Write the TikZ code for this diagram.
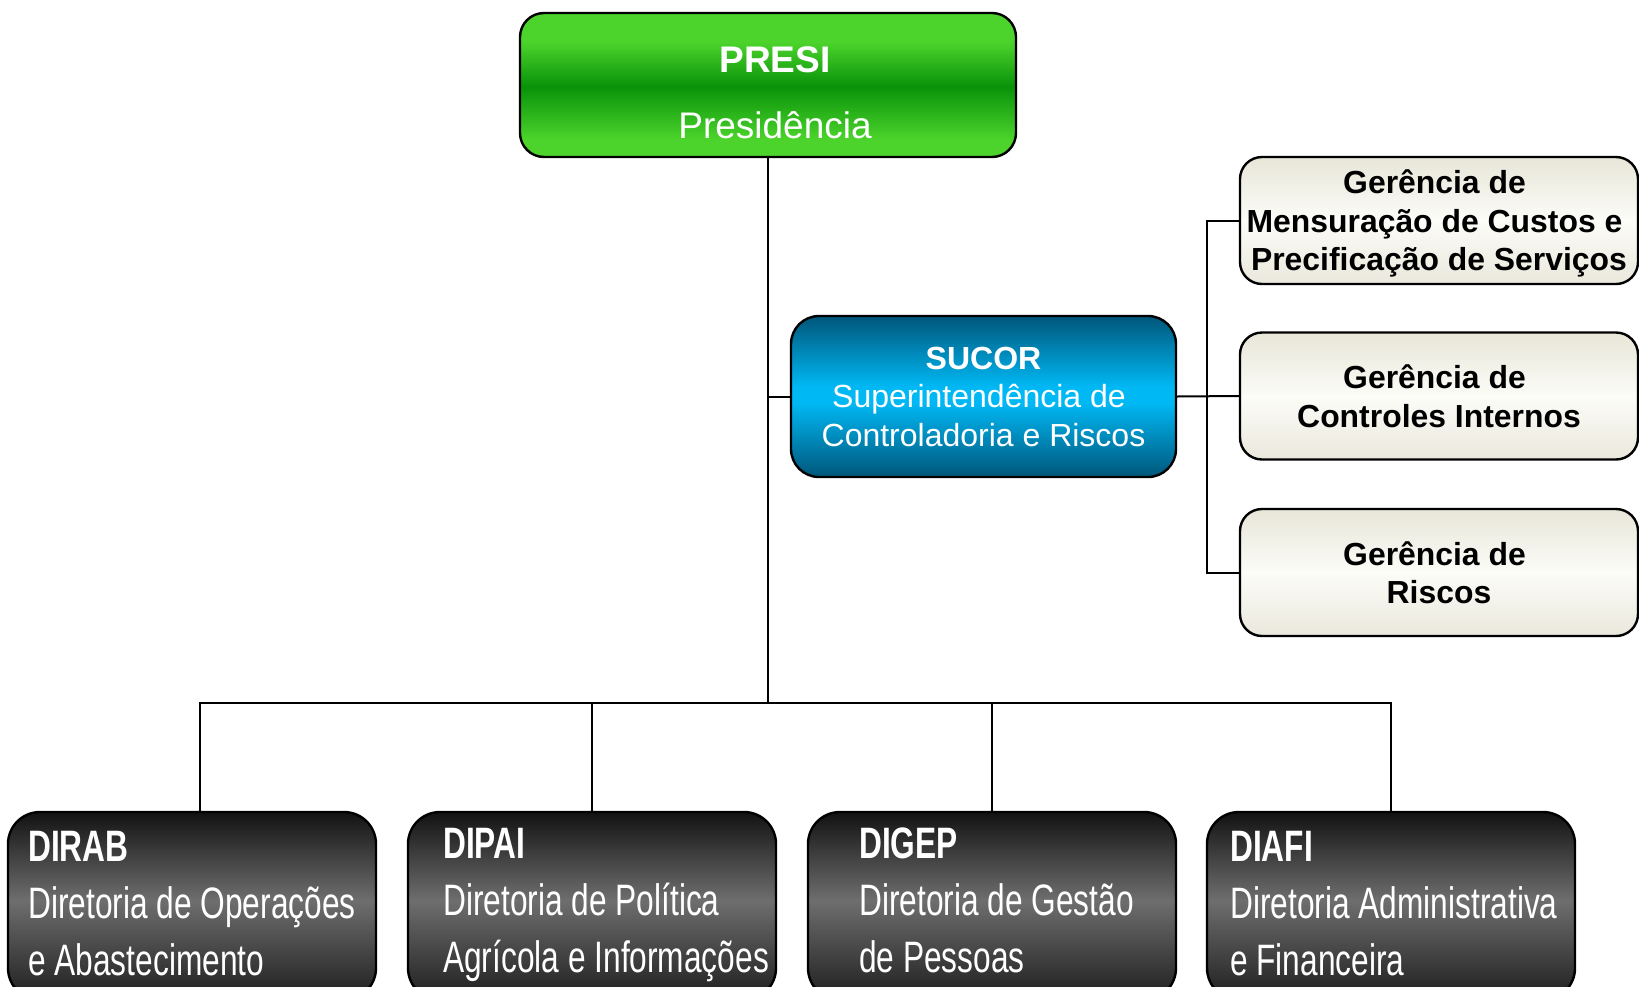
\documentclass[tikz,border=0pt]{standalone}
\usepackage{fontspec}
\setmainfont{Liberation Sans}
\newfontfamily\narrowfont[FakeStretch=0.72]{Liberation Sans}
\definecolor{grlight}{HTML}{4CD42C}
\definecolor{grdark}{HTML}{099209}
\definecolor{bldark}{HTML}{00567A}
\definecolor{blbright}{HTML}{00B8F4}
\definecolor{crtop}{HTML}{E8E6D8}
\definecolor{crmid}{HTML}{FCFCF8}
\definecolor{crbot}{HTML}{EAE8DC}
\definecolor{dktop}{HTML}{121212}
\definecolor{dkmid}{HTML}{6E6E6E}
\definecolor{dkbot}{HTML}{1E1E1E}
\pgfdeclareverticalshading{greenshade}{100bp}{color(0bp)=(grlight); color(31bp)=(grlight); color(49.5bp)=(grdark); color(65bp)=(grlight); color(100bp)=(grlight)}
\pgfdeclareverticalshading{blueshade}{100bp}{color(0bp)=(bldark); color(25bp)=(bldark); color(48bp)=(blbright); color(53bp)=(blbright); color(75bp)=(bldark); color(100bp)=(bldark)}
\pgfdeclareverticalshading{creamshade}{100bp}{color(0bp)=(crbot); color(25bp)=(crbot); color(50bp)=(crmid); color(75bp)=(crtop); color(100bp)=(crtop)}
\pgfdeclareverticalshading{darkshade}{100bp}{color(0bp)=(dkbot); color(25bp)=(dkbot); color(51.5bp)=(dkmid); color(75bp)=(dktop); color(100bp)=(dktop)}
\begin{document}
\begin{tikzpicture}[x=1pt,y=-1pt,
  conn/.style={line width=2pt, draw=black},
  boxbase/.style={draw=black, line width=2.4pt, inner sep=0pt},
  greenbox/.style={boxbase, shading=greenshade, rounded corners=24pt},
  bluebox/.style={boxbase, shading=blueshade, rounded corners=28pt, text=white, align=center, text depth=0pt, font=\fontsize{32}{38.5}\selectfont},
  creambox/.style={boxbase, shading=creamshade, rounded corners=22pt, text=black, align=center, text depth=0pt, minimum width=398pt, minimum height=127pt, font=\bfseries\fontsize{31.9}{38.5}\selectfont},
  darkbox/.style={boxbase, shading=darkshade, rounded corners=32pt, minimum width=368pt, minimum height=188pt},
  presitext/.style={text=white, align=center, text depth=0pt, inner sep=0pt, font=\fontsize{37}{66}\selectfont},
  dirtext/.style={text=white, align=left, text depth=0pt, inner sep=0pt, anchor=west, font=\narrowfont\fontsize{44}{57}\selectfont}]
\clip (0,0) rectangle (1639,986);
\fill[white] (0,0) rectangle (1639,986);
% boxes
\node[greenbox, minimum width=496pt, minimum height=144pt] (presi) at (768,85) {};
\node[presitext] (presit) at (775,92.8) {\textbf{PRESI}\\Presidência};
\node[bluebox, minimum width=385pt, minimum height=161pt] (sucor) at (983.5,396.5) {\textbf{SUCOR}\\Superintendência de\kern9pt\\Controladoria e Riscos};
\node[creambox] (g1) at (1439,220.5) {Gerência de\kern9pt\\Mensuração de Custos e\kern9pt\\Precificação de Serviços};
\node[creambox] (g2) at (1439,396) {Gerência de\kern9pt\\Controles Internos};
\node[creambox] (g3) at (1439,572.5) {Gerência de\kern9pt\\Riscos};
\node[darkbox] (dirab) at (192,906) {};
\node[darkbox] (dipai) at (592,906) {};
\node[darkbox] (digep) at (992,906) {};
\node[darkbox] (diafi) at (1391,906) {};
\node[dirtext] (dirabt) at (28,903) {\textbf{DIRAB}\\Diretoria de Operações\\e Abastecimento};
\node[dirtext] (dipait) at (443,900) {\textbf{DIPAI}\\Diretoria de Política\\Agrícola e Informações};
\node[dirtext] (digept) at (859,900) {\textbf{DIGEP}\\Diretoria de Gestão\\de Pessoas};
\node[dirtext] (diafit) at (1230,903) {\textbf{DIAFI}\\Diretoria Administrativa\\e Financeira};
% connectors
\coordinate (hub) at (768,703);
\coordinate (br) at (1207,397);
\draw[conn] (presi.south) -- (hub);
\draw[conn] (sucor.west -| hub) -- (sucor.west);
\draw[conn] (hub) -| ([xshift=8pt]dirab.north);
\draw[conn] (hub) -| (dipai.north);
\draw[conn] (hub) -| (digep.north);
\draw[conn] (hub) -| (diafi.north);
\draw[conn] (sucor.east) -- (g2.west);
\draw[conn] (g1.west) -| (br) |- (g3.west);
\end{tikzpicture}
\end{document}
